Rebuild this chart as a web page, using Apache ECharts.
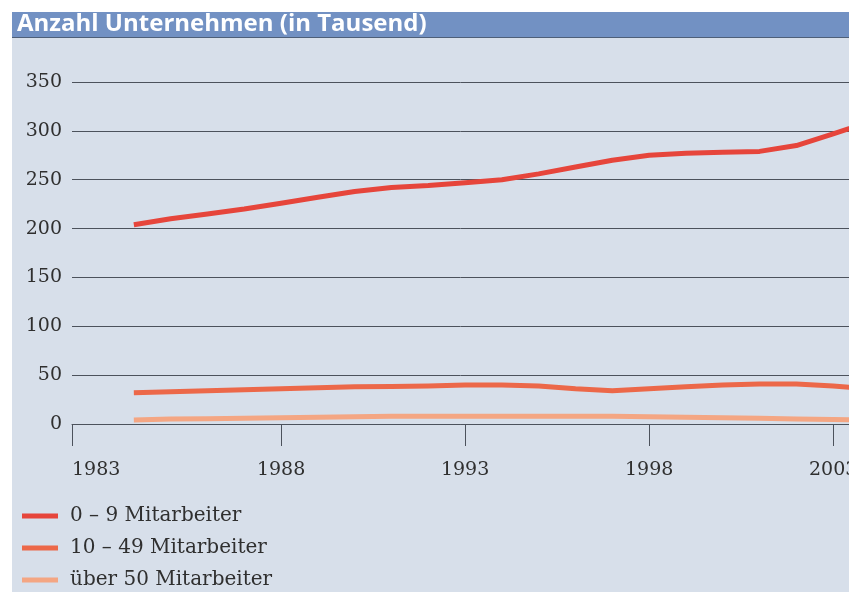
<!DOCTYPE html>
<html>
<head>
<meta charset="utf-8">
<script src="https://cdn.jsdelivr.net/npm/echarts@6/dist/echarts.min.js"></script>
<style>
  html, body { margin: 0; padding: 0; background: #ffffff; overflow: hidden; }
  #chart { width: 849px; height: 592px; }
</style>
</head>
<body>
<div id="chart"></div>
<script>
// ---- data ----
const titleText = 'Anzahl Unternehmen (in Tausend)';
const years = [1984, 1985, 1986, 1987, 1988, 1989, 1990, 1991, 1992, 1993, 1994, 1995, 1996, 1997, 1998, 1999, 2000, 2001, 2002, 2003, 2004];
const seriesNames = ['0 – 9 Mitarbeiter', '10 – 49 Mitarbeiter', 'über 50 Mitarbeiter'];
const small = [204, 210, 215, 220, 226, 232, 238, 242, 244, 247, 250, 256, 263, 270, 275, 277, 278, 279, 285, 297, 309];
const medium = [32, 33, 34, 35, 36, 37, 38, 38.5, 39, 40, 40, 39, 36, 34, 36, 38, 40, 41, 41, 39, 36];
const large = [4, 5, 5.5, 6, 6.5, 7, 7.5, 8, 8, 8, 8, 8, 8, 8, 7.5, 7, 6.5, 6, 5, 4.5, 4];
const xTickValues = [1982.32, 1988, 1993, 1998, 2003];
const xTickLabels = ['1983', '1988', '1993', '1998', '2003'];
const yTicks = [0, 50, 100, 150, 200, 250, 300, 350];

const colors = ['#e6453b', '#ec6849', '#f4a683'];
const serif = 'DejaVu Serif';
const seriesData = [small, medium, large];

const chart = echarts.init(document.getElementById('chart'), null, { renderer: 'canvas' });

const option = {
  animation: false,
  backgroundColor: '#ffffff',
  graphic: [
    { type: 'rect', left: 12, top: 12, shape: { width: 837, height: 580 }, style: { fill: '#d7dfea' }, z: -10, silent: true },
    { type: 'rect', left: 12, top: 12, shape: { width: 837, height: 26 }, style: { fill: '#7291c3' }, z: -5, silent: true },
    { type: 'rect', left: 12, top: 37, shape: { width: 837, height: 1 }, style: { fill: '#4e5f78' }, z: -4, silent: true },
    { type: 'text', left: 17, top: 12, style: { text: titleText, fill: '#ffffff', font: 'bold 24px "Open Sans", "DejaVu Sans", sans-serif' }, z: 10, silent: true }
  ],
  grid: { left: 72, right: 0, top: 82, bottom: 168, containLabel: false, outerBoundsMode: 'none' },
  legend: {
    orient: 'vertical',
    left: 22,
    top: 505,
    padding: 0,
    itemWidth: 36,
    itemHeight: 5,
    itemGap: 10,
    icon: 'rect',
    textStyle: { fontFamily: serif, fontSize: 20, lineHeight: 22, color: '#2f2f2f', padding: [0, 0, 0, 7] },
    data: seriesNames
  },
  xAxis: {
    type: 'value',
    min: xTickValues[0],
    max: 2003.43,
    axisLine: { show: true, lineStyle: { color: '#4c525c', width: 1 } },
    axisTick: { show: true, length: 22, inside: false, customValues: xTickValues, lineStyle: { color: '#4c525c', width: 1 } },
    axisLabel: {
      customValues: xTickValues,
      margin: 37,
      fontFamily: serif,
      fontSize: 19,
      color: '#2f2f2f',
      alignMinLabel: 'left',
      showMaxLabel: true,
      formatter: function (v) {
        let best = 0;
        for (let i = 0; i < xTickValues.length; i++) {
          if (Math.abs(xTickValues[i] - v) < Math.abs(xTickValues[best] - v)) best = i;
        }
        return xTickLabels[best];
      }
    },
    splitLine: { show: false }
  },
  yAxis: {
    type: 'value',
    min: yTicks[0],
    max: yTicks[yTicks.length - 1],
    interval: 50,
    axisLine: { show: false },
    axisTick: { show: false },
    axisLabel: { margin: 10, fontFamily: serif, fontSize: 19, color: '#2f2f2f' },
    splitLine: { show: true, lineStyle: { color: '#4c525c', width: 1 } }
  },
  series: seriesNames.map(function (name, i) {
    return {
      name: name,
      type: 'line',
      clip: true,
      symbol: 'none',
      smooth: false,
      color: colors[i],
      lineStyle: { width: 5, color: colors[i], cap: 'butt', join: 'round' },
      data: years.map(function (y, j) { return [y, seriesData[i][j]]; }),
      z: 5 - i
    };
  })
};
chart.setOption(option);
</script>
</body>
</html>
